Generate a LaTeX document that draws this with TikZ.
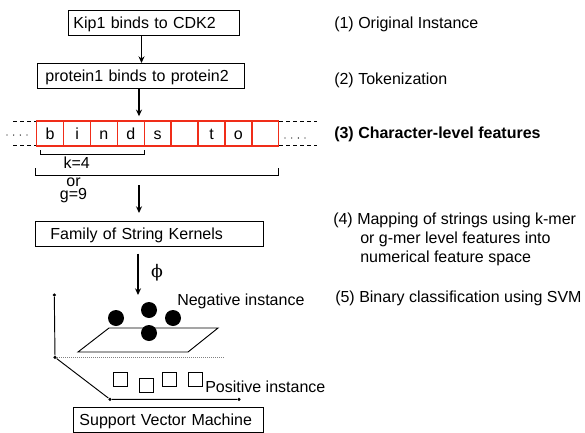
\documentclass[tikz,border=0pt]{standalone}
\usepackage{fontspec}
\setmainfont{Liberation Sans}
\newfontfamily\phifont{DejaVu Serif}
\usetikzlibrary{arrows.meta}
\definecolor{cellred}{RGB}{240,45,25}
\begin{document}
\begin{tikzpicture}[x=0.75pt,y=-0.75pt,
  every node/.style={font=\fontsize{12}{14.4}\selectfont, inner sep=0pt},
  box/.style={draw, line width=0.7pt, anchor=north west, minimum height=18.75pt,
    text height=8.6pt, text depth=0pt, align=left},
  cell/.style={draw=cellred, line width=1.1pt, minimum width=20.17pt, minimum height=18.75pt,
    text height=8.6pt, text depth=0pt},
  arr/.style={-{Stealth[length=5pt,width=4.5pt]}, line width=1.2pt},
  lbl/.style={anchor=base west},
  dsh/.style={line width=0.6pt, dash pattern=on 3pt off 2.25pt},
  dotrow/.style={line width=1pt, line cap=round, dash pattern=on 0pt off 5pt},
  brk/.style={line width=0.7pt},
  axis/.style={line width=0.7pt},
  ball/.style={circle, fill=black, minimum size=12pt},
  sq/.style={draw, line width=0.6pt, minimum size=10.5pt},
  pt/.style={circle, fill=black, minimum size=2.6pt}
]
\useasboundingbox (0,0) rectangle (585,432);

% boxes
\node[box, inner xsep=3.75pt, text width=120.75pt] (box1) at (68,10) {Kip1 binds to CDK2};
\node[box, inner xsep=6pt, text width=143.25pt] (box2) at (37,63) {protein1 binds to protein2};
\node[box, inner xsep=11.25pt, text width=148.5pt] (fam) at (35,221) {Family of String Kernels};
\node[box, inner xsep=4.5pt, text width=133.5pt] (svm) at (73,407) {Support Vector Machine};

% arrow x positions
\coordinate (ax1) at (141.5,0);
\coordinate (ax2) at (139,0);
\coordinate (a3s) at (139,185);
\coordinate (phiend) at (138,295);

% dashed borders and dots
\draw[dsh] (13,121) -- (37,121);
\draw[dsh] (13,145) -- (37,145);
\draw[dsh] (279,121) -- (317,121);
\draw[dsh] (279,145) -- (317,145);
\draw[dotrow] (7,135) -- (29,135);
\draw[dotrow] (285,138) -- (308,138);

% character cells
\foreach \l [count=\i] in {b,i,n,d,s,{},t,o,{}}
  \node[cell] (c\i) at ({36.7+26.89*(\i-0.5)},133.5) {\l};

% arrows
\draw[arr] (box1.south -| ax1) -- (box2.north -| ax1);
\draw[arr, shorten >=3pt] (box2.south -| ax2) -- (c4.north -| ax2);
\draw[arr, shorten >=6pt] (a3s) -- (fam.north -| a3s);
\draw[arr, shorten <=5pt] (fam.south -| phiend) -- (phiend);
\node (phi) at (157,273) {\phifont\fontsize{13}{15}\selectfont ϕ};

% brackets
\draw[brk] (40,150) -- (40,154) -- (144,154) -- (144,150);
\draw[brk] (35,168) -- (35,175) -- (278,175) -- (278,168);
\node[lbl] (k4) at (63.3,168.3) {k=4};
\node[anchor=base, align=center, font=\fontsize{12}{9.8}\selectfont] (org9) at (73.5,199.5) {or\\g=9};

% feature space
\node[pt] (p1) at (54.3,295) {};
\node[pt] (p2) at (55,357.3) {};
\node[pt] (p3) at (110,399.3) {};
\node[pt] (p4) at (239,399.3) {};
\draw[axis] (p1) -- (p2) -- (p3) -- (p4);
\draw[gray, line width=0.6pt, dash pattern=on 0.75pt off 0.75pt] (p2) -- (224,357.3);

\draw[line width=0.7pt] (78,352) -- (188,352) -- (218,328) -- (109,328) -- cycle;

\node[ball] (n1) at (116,318) {};
\node[ball] (n2) at (149,310) {};
\node[ball] (n3) at (173,318) {};
\node[ball] (n4) at (149,333) {};

\node[sq] (s1) at (120.5,379) {};
\node[sq] (s2) at (146,385.5) {};
\node[sq] (s3) at (169.5,379) {};
\node[sq] (s4) at (195,379) {};

\node[lbl] (neg) at (177,305) {Negative instance};
\node[lbl] (pos) at (205,392) {Positive instance};

% right-hand labels
\node[lbl] (t1) at (334,28.5) {(1) Original Instance};
\node[lbl] (t2) at (334,84.5) {(2) Tokenization};
\node[lbl] (t3) at (334,138.5) {\bfseries (3) Character-level features};
\node[lbl] (t4a) at (333,224.5) {(4) Mapping of strings using k-mer};
\node[lbl] (t4b) at (360,243.5) {or g-mer level features into};
\node[lbl] (t4c) at (360,262.5) {numerical feature space};
\node[lbl] (t5) at (335,302.5) {(5) Binary classification using SVM};
\end{tikzpicture}
\end{document}
